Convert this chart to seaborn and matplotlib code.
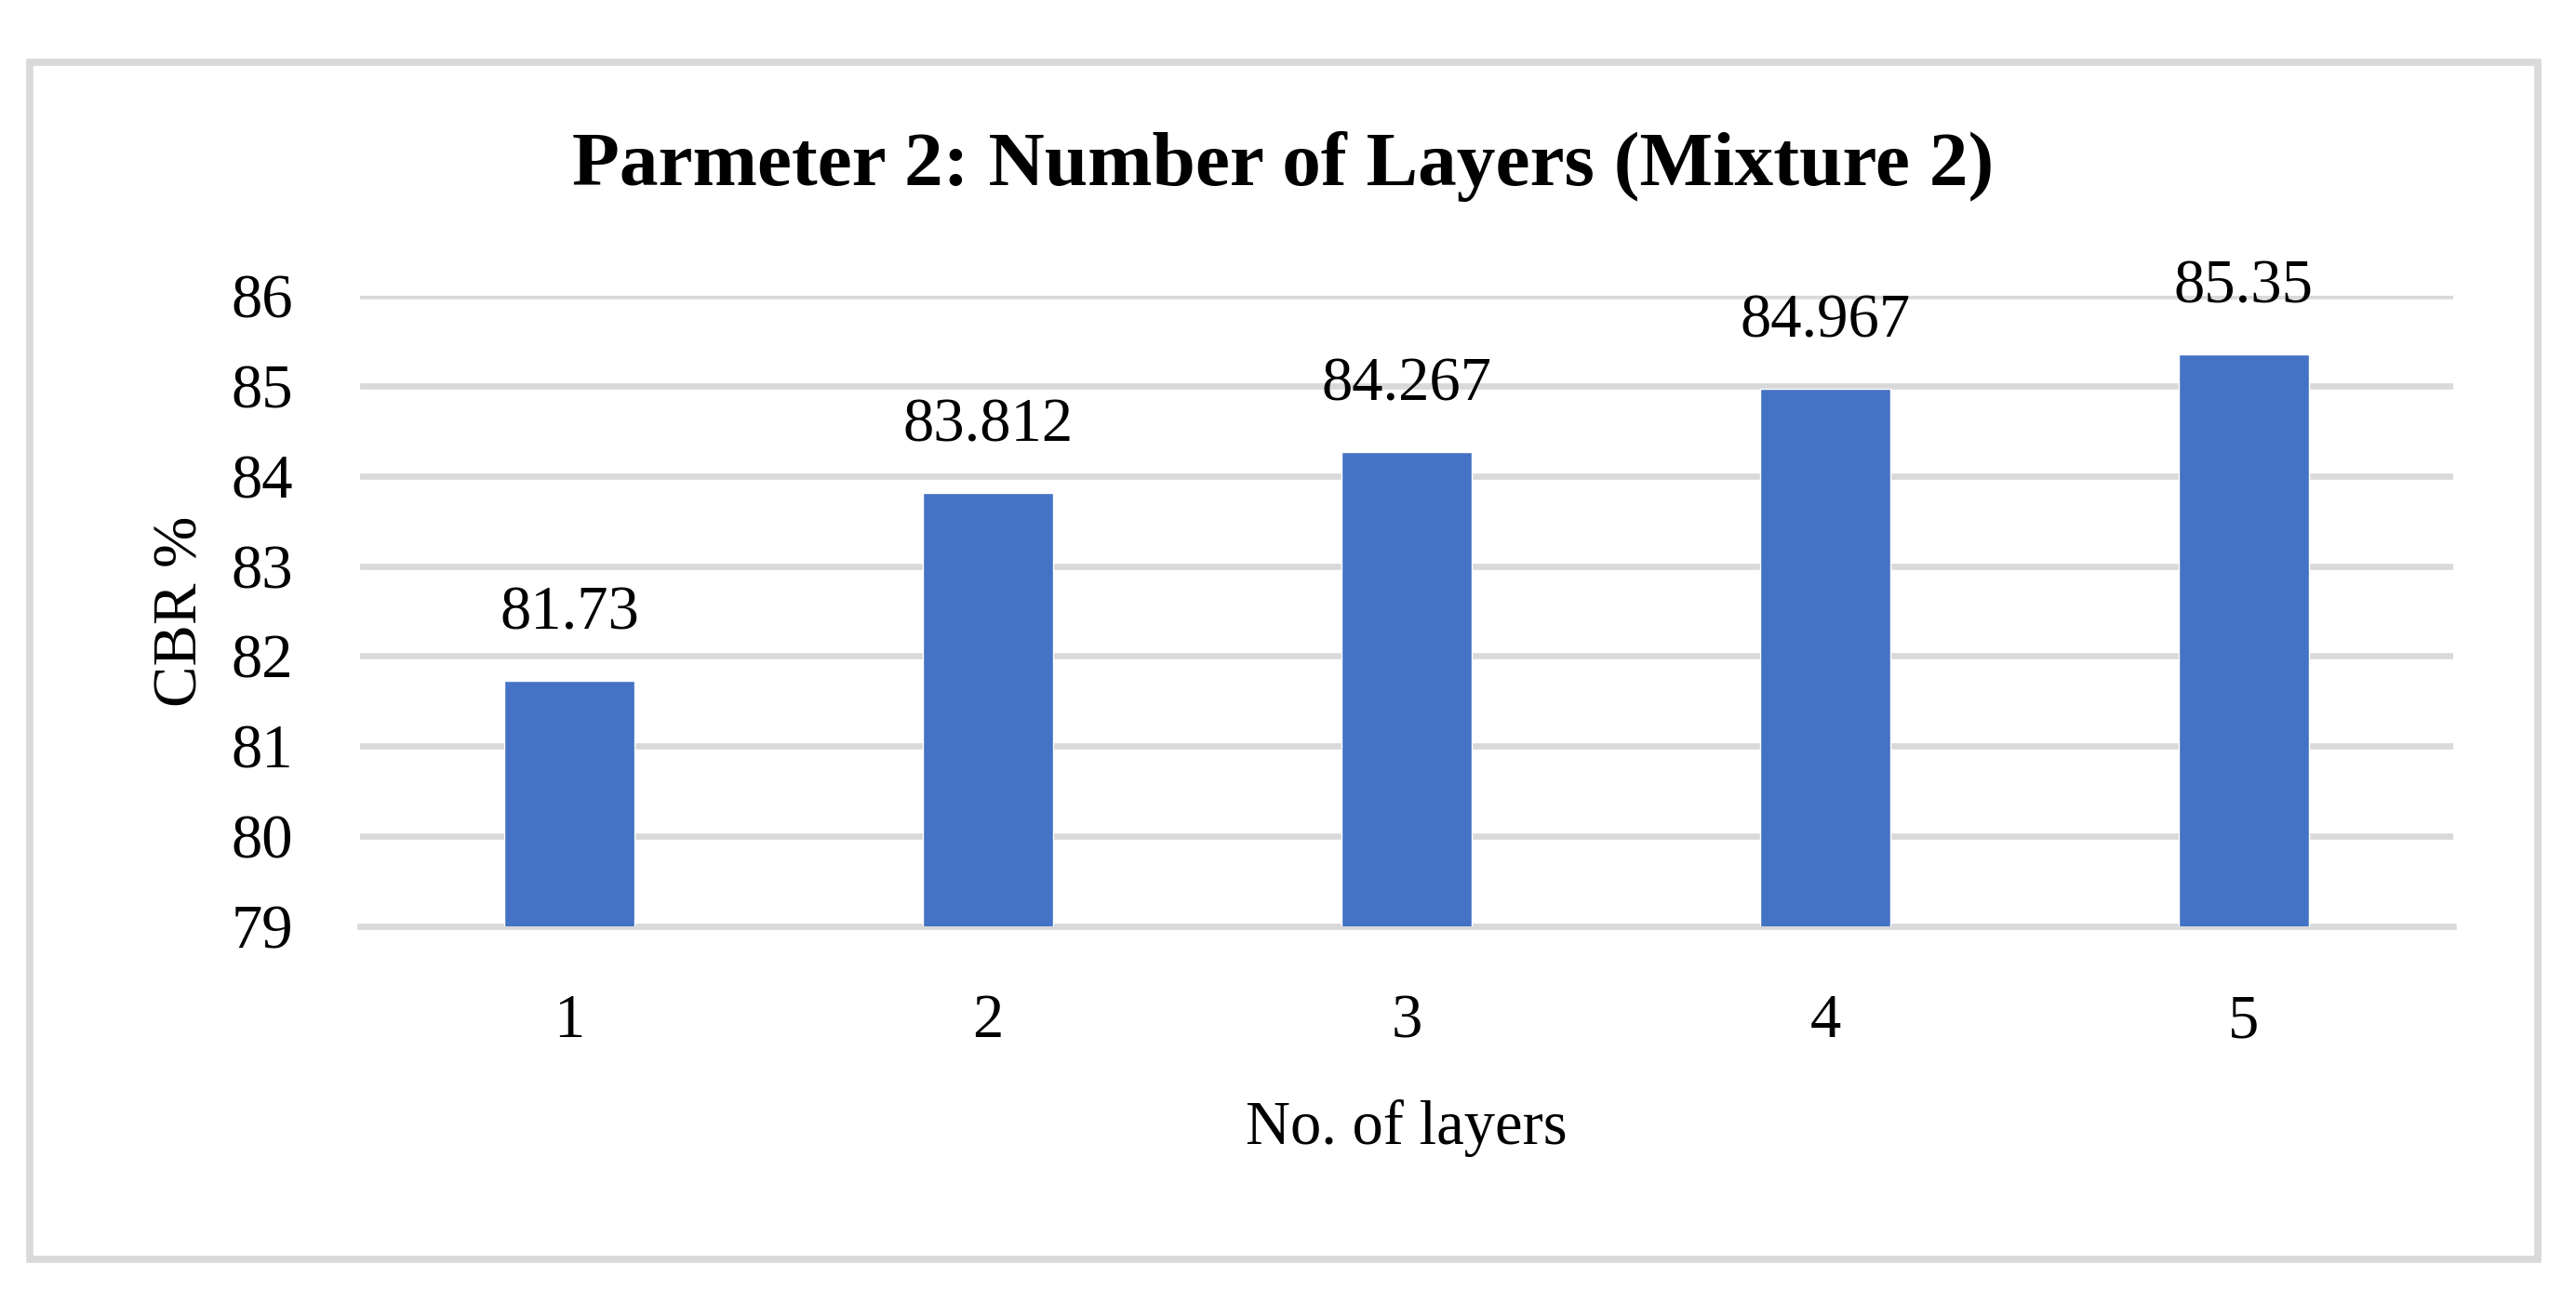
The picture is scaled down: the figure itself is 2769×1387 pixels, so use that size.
import matplotlib
matplotlib.use("Agg")
import matplotlib.pyplot as plt
import pandas as pd
import seaborn as sns
from matplotlib.patches import Rectangle

# values
layers = ["1", "2", "3", "4", "5"]
cbr = [81.73, 83.812, 84.267, 84.967, 85.35]
cbr_labels = ["81.73", "83.812", "84.267", "84.967", "85.35"]
y_ticks = [79, 80, 81, 82, 83, 84, 85, 86]

title = "Parmeter 2: Number of Layers (Mixture 2)"
x_label = "No. of layers"
y_label = "CBR %"

BAR_COLOR = "#4472C4"
GRID_COLOR = "#D9D9D9"

sns.set_theme(style="white")
plt.rcParams["font.family"] = ["Liberation Serif", "DejaVu Serif"]
plt.rcParams["text.color"] = "black"
plt.rcParams["axes.labelcolor"] = "black"

df = pd.DataFrame({"layers": layers, "cbr": cbr})

fig = plt.figure(figsize=(27.69, 13.87), dpi=100)
ax = fig.add_axes([0.1398, 0.2819, 0.8125, 0.4888])

sns.barplot(data=df, x="layers", y="cbr", order=layers, color=BAR_COLOR,
            width=0.31, saturation=1, ax=ax, zorder=3)

ax.set_ylim(79, 86)
ax.set_yticks(y_ticks)
ax.set_xlim(-0.5, len(layers) - 0.5)
ax.yaxis.grid(True, color=GRID_COLOR, linewidth=4.8, zorder=0)
ax.set_axisbelow(True)
for side in ["top", "right", "left"]:
    ax.spines[side].set_visible(False)
ax.spines["bottom"].set_color(GRID_COLOR)
ax.spines["bottom"].set_linewidth(4.8)
ax.spines["bottom"].set_zorder(1)

ax.tick_params(axis="both", length=0, labelsize=48, colors="black")
ax.tick_params(axis="y", pad=52)
ax.tick_params(axis="x", pad=52)

for i, (v, txt) in enumerate(zip(cbr, cbr_labels)):
    ax.annotate(txt, xy=(i, v), xytext=(0, 40), textcoords="offset points",
                ha="center", va="baseline", fontsize=48, color="black",
                annotation_clip=False)

ax.set_xlabel(x_label, fontsize=48)
ax.set_ylabel(y_label, fontsize=48)
ax.xaxis.set_label_coords(0.5, -0.274)
ax.yaxis.set_label_coords(-0.072, 0.5)

fig.text(0.498, 0.8565, title, ha="center", va="baseline",
         fontsize=60, fontweight="bold", color="black")

# light grey frame around the whole chart
fig.patches.append(Rectangle((32 / 2769, 1 - 1354 / 1387), (2728 - 32) / 2769,
                             (1354 - 67) / 1387, transform=fig.transFigure,
                             fill=False, edgecolor=GRID_COLOR, linewidth=5.5))

fig.savefig("out.png", dpi=100, facecolor="white")
